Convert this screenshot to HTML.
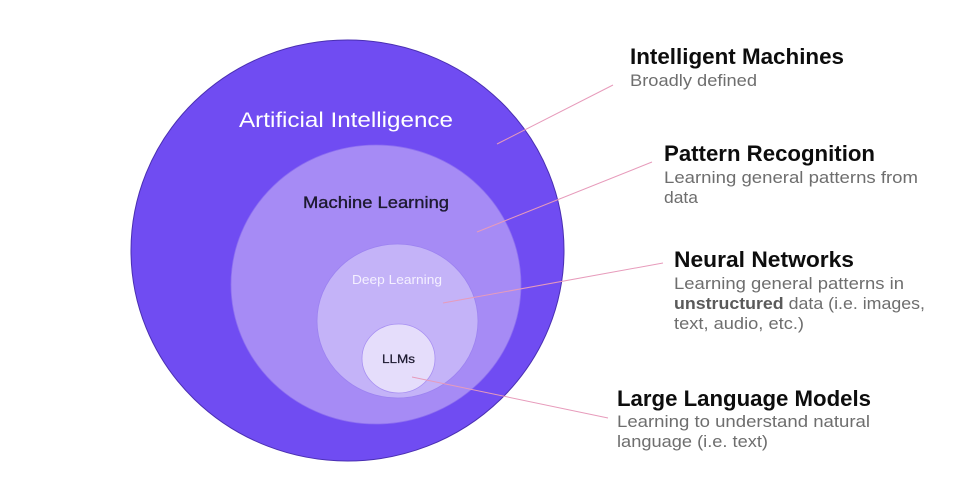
<!DOCTYPE html>
<html>
<head>
<meta charset="utf-8">
<style>
  html,body{margin:0;padding:0;background:#ffffff;}
  svg{display:block;}
  text{font-family:"Liberation Sans", Arial, sans-serif;}
</style>
</head>
<body>
<svg width="970" height="487" viewBox="0 0 970 487" xmlns="http://www.w3.org/2000/svg">
  <rect width="970" height="487" fill="#ffffff"/>

  <!-- circles -->
  <ellipse cx="347.5" cy="250.5" rx="216.5" ry="210.5" fill="#704cf2" stroke="#4a2fb2" stroke-width="1"/>
  <ellipse cx="376" cy="284.5" rx="145" ry="139.5" fill="#a68bf5" stroke="#8d6ff0" stroke-width="0.8"/>
  <ellipse cx="397.5" cy="321" rx="80.5" ry="77" fill="#c4b3f8" stroke="#9c82f0" stroke-width="0.8"/>
  <ellipse cx="398.5" cy="358.5" rx="36.5" ry="34.5" fill="#e5ddfb" stroke="#a890f2" stroke-width="0.8"/>

  <!-- circle labels -->
  <text x="239" y="127" font-size="21" fill="#ffffff" textLength="214" lengthAdjust="spacingAndGlyphs">Artificial Intelligence</text>
  <text x="303" y="208" font-size="16.5" fill="#1d1a30" stroke="#1d1a30" stroke-width="0.35" textLength="146" lengthAdjust="spacingAndGlyphs">Machine Learning</text>
  <text x="352" y="284" font-size="12.5" fill="#f4f0ff" textLength="90" lengthAdjust="spacingAndGlyphs">Deep Learning</text>
  <text x="382" y="363" font-size="12" fill="#1d1a30" stroke="#1d1a30" stroke-width="0.25" textLength="33" lengthAdjust="spacingAndGlyphs">LLMs</text>

  <!-- connector lines -->
  <g stroke="#e79bbb" stroke-width="1" fill="none">
    <line x1="497" y1="144" x2="613" y2="85"/>
    <line x1="477" y1="232" x2="652" y2="162"/>
    <line x1="443" y1="303" x2="663" y2="263"/>
    <line x1="412" y1="377" x2="608" y2="418"/>
  </g>

  <!-- right labels -->
  <text x="630" y="64" font-size="22" font-weight="bold" fill="#0d0d0d" textLength="214" lengthAdjust="spacingAndGlyphs">Intelligent Machines</text>
  <text x="630" y="86" font-size="17" fill="#6e6e6e" textLength="127" lengthAdjust="spacingAndGlyphs">Broadly defined</text>

  <text x="664" y="161" font-size="22" font-weight="bold" fill="#0d0d0d" textLength="211" lengthAdjust="spacingAndGlyphs">Pattern Recognition</text>
  <text x="664" y="183" font-size="17" fill="#6e6e6e" textLength="254" lengthAdjust="spacingAndGlyphs">Learning general patterns from</text>
  <text x="664" y="203" font-size="17" fill="#6e6e6e" textLength="34" lengthAdjust="spacingAndGlyphs">data</text>

  <text x="674" y="267" font-size="22" font-weight="bold" fill="#0d0d0d" textLength="180" lengthAdjust="spacingAndGlyphs">Neural Networks</text>
  <text x="674" y="289" font-size="17" fill="#6e6e6e" textLength="230" lengthAdjust="spacingAndGlyphs">Learning general patterns in</text>
  <text x="674" y="309" font-size="17" fill="#6e6e6e" textLength="251" lengthAdjust="spacingAndGlyphs"><tspan font-weight="bold" fill="#5a5a5a">unstructured</tspan> data (i.e. images,</text>
  <text x="674" y="329" font-size="17" fill="#6e6e6e" textLength="130" lengthAdjust="spacingAndGlyphs">text, audio, etc.)</text>

  <text x="617" y="406" font-size="22" font-weight="bold" fill="#0d0d0d" textLength="254" lengthAdjust="spacingAndGlyphs">Large Language Models</text>
  <text x="617" y="427" font-size="17" fill="#6e6e6e" textLength="253" lengthAdjust="spacingAndGlyphs">Learning to understand natural</text>
  <text x="617" y="447" font-size="17" fill="#6e6e6e" textLength="151" lengthAdjust="spacingAndGlyphs">language (i.e. text)</text>
</svg>
</body>
</html>
